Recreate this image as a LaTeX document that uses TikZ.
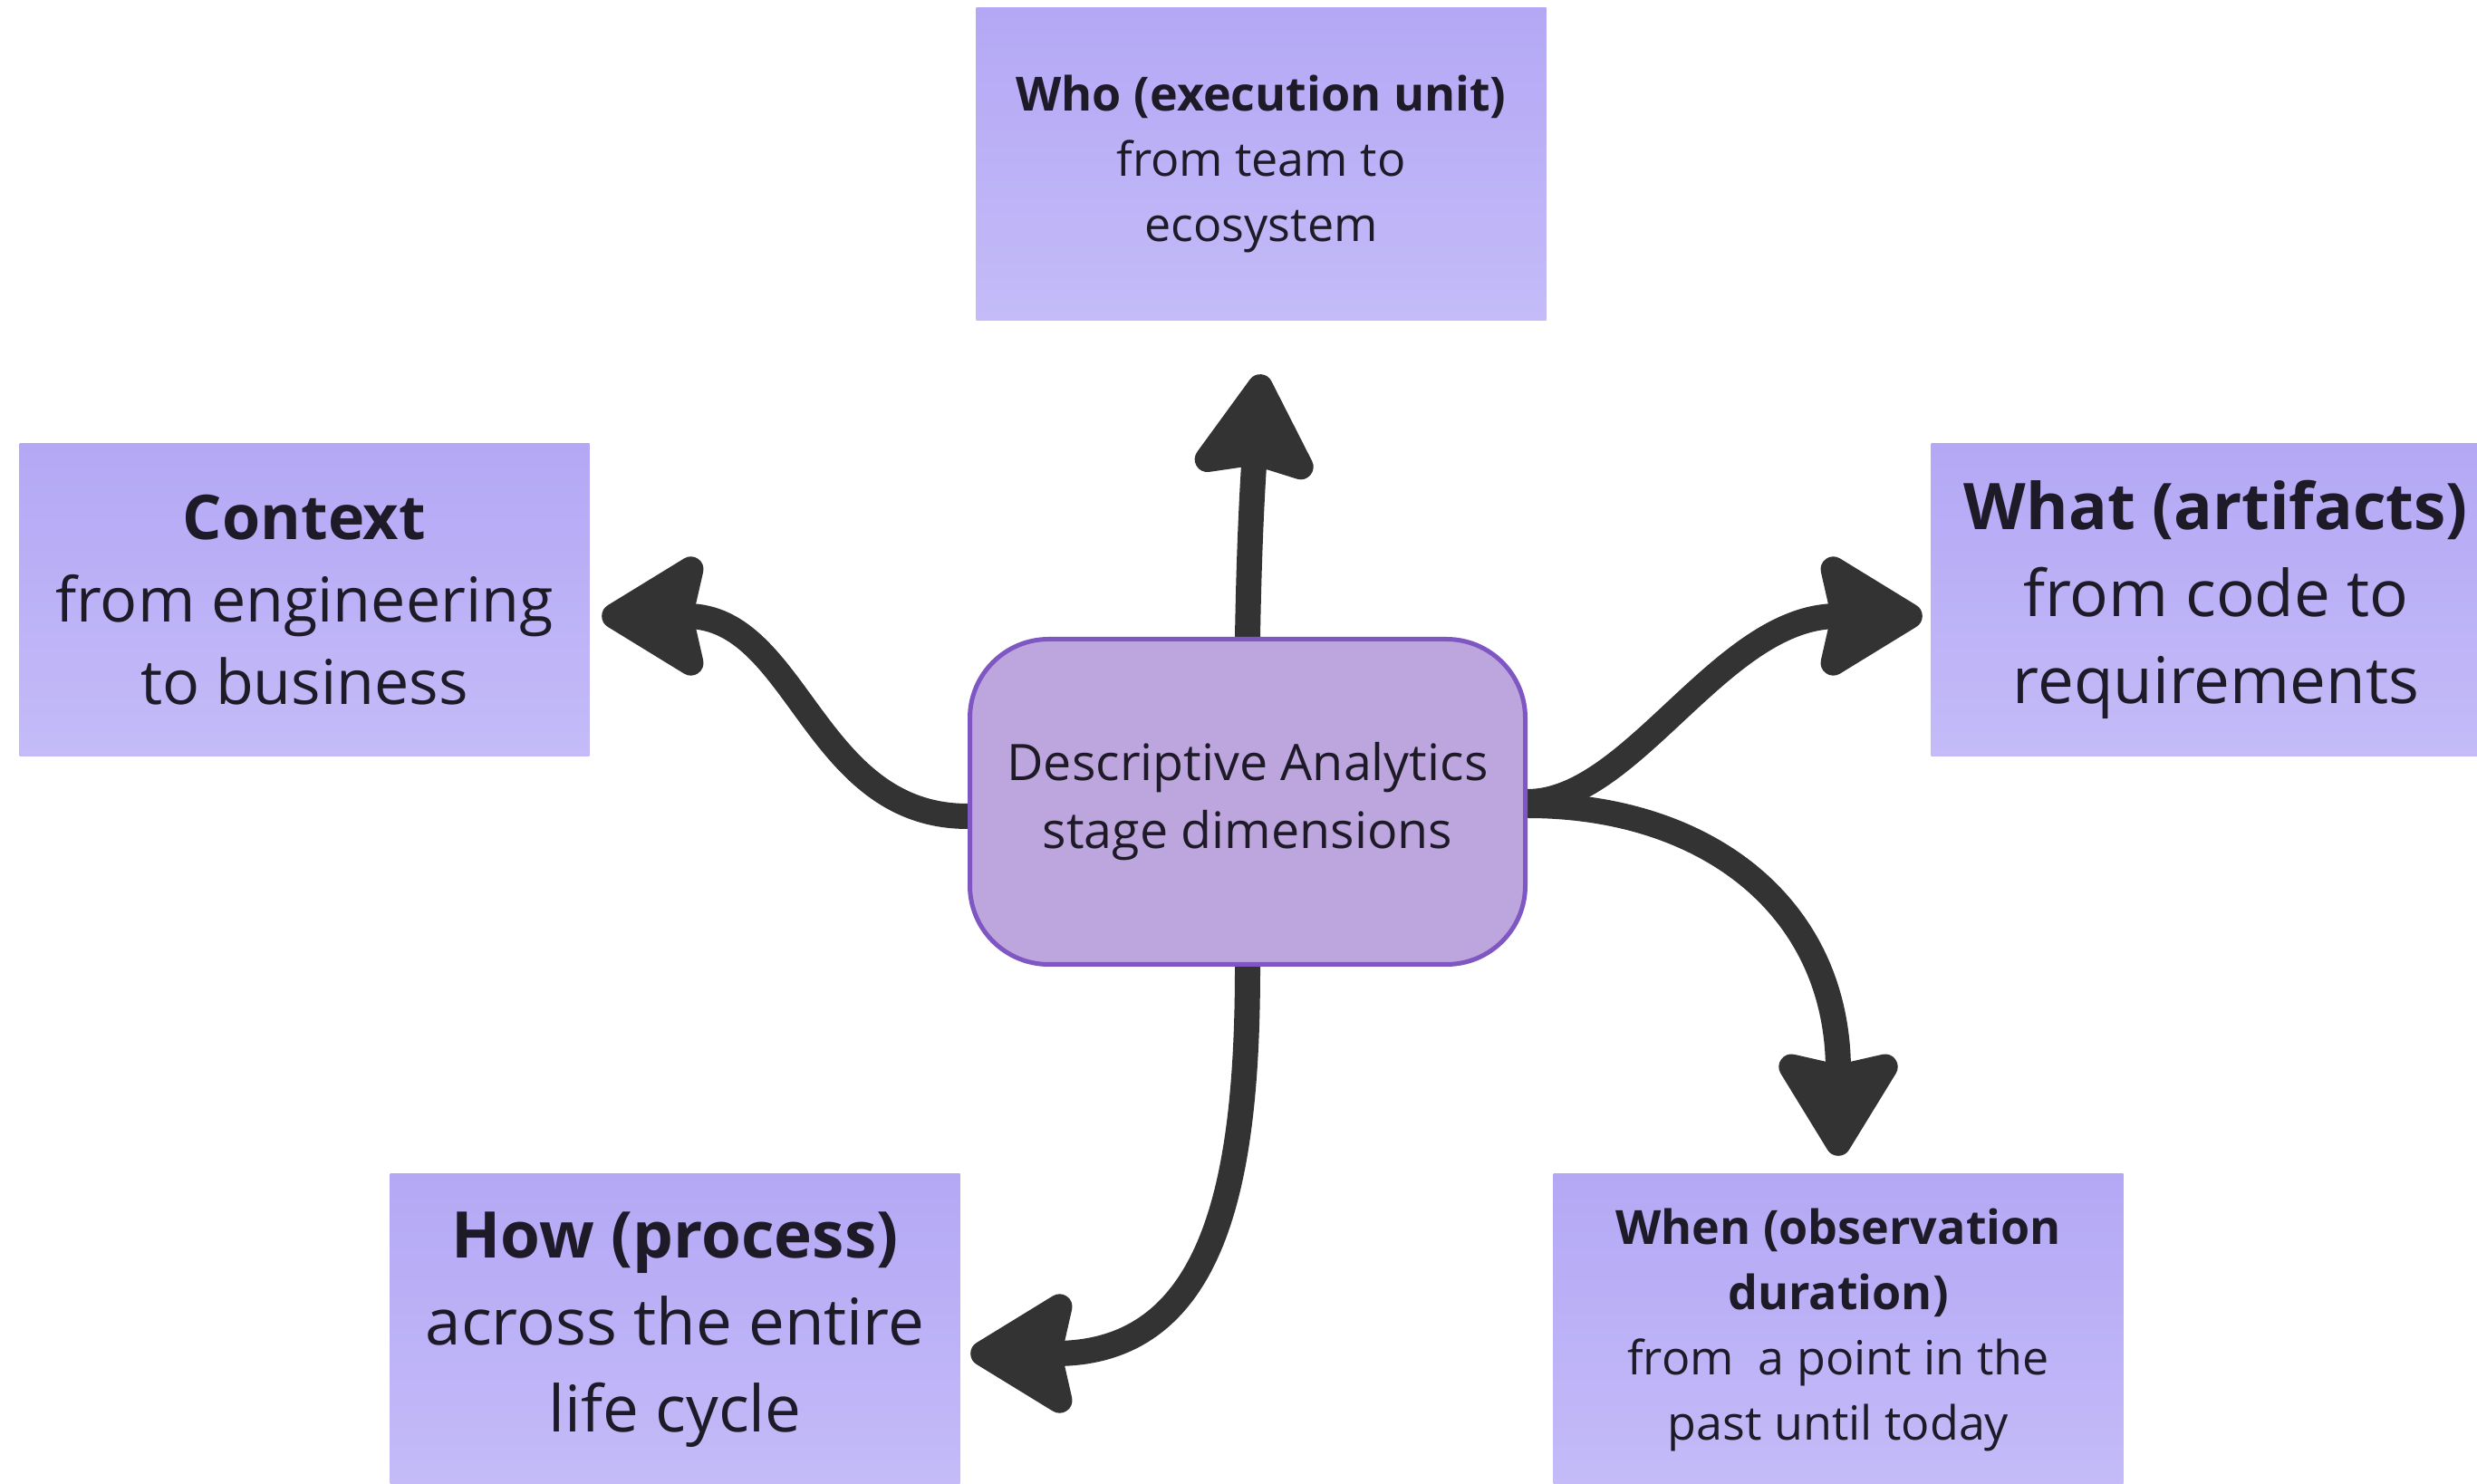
\documentclass[tikz,border=0pt]{standalone}
\usepackage{fontspec}
\setmainfont{Open Sans}
\usetikzlibrary{arrows.meta,backgrounds}

\definecolor{cardtop}{RGB}{180,168,245}
\definecolor{cardbot}{RGB}{196,187,248}
\definecolor{hubfill}{RGB}{189,166,222}
\definecolor{hubline}{RGB}{126,87,194}
\definecolor{ink}{RGB}{30,26,40}
\definecolor{arrowgray}{RGB}{51,51,51}

\begin{document}
\begin{tikzpicture}[
  card/.style={minimum width=6.29cm, minimum height=3.45cm, inner sep=0pt,
    top color=cardtop, bottom color=cardbot, text=ink, align=center},
  bigtext/.style={font=\fontsize{20.2}{27.3}\selectfont},
  midtext/.style={font=\fontsize{19.4}{25.8}\selectfont},
  smalltext/.style={font=\fontsize{14.8}{20.5}\selectfont},
  hub/.style={minimum width=6.13cm, minimum height=3.59cm, inner sep=0pt,
    rounded corners=0.87cm, draw=hubline, line width=0.05cm, fill=hubfill,
    text=ink, align=center, font=\fontsize{15.8}{21.3}\selectfont},
  link/.style={draw=arrowgray, line width=0.28cm,
    -{Stealth[length=1.3cm, width=1.56cm, inset=0.16cm, round]}},
]
\useasboundingbox (0,0) rectangle (27.34,-16.38);
%
\node [hub] (hub) at (13.77,-8.85) {Descriptive Analytics\\stage dimensions};
%
\node [card, smalltext] (who) at (13.92,-1.81) {\textbf{Who (execution unit)}\\from team to\\ecosystem};
\node [card, midtext] (ctx) at (3.36,-6.62) {\textbf{Context}\\from engineering\\to business};
\node [card, bigtext] (what) at (24.46,-6.62) {\textbf{What (artifacts)}\\from code to\\requirements};
\node [card, bigtext] (how) at (7.45,-14.68) {\textbf{How (process)}\\across the entire\\life cycle};
\node [card, smalltext] (when) at (20.29,-14.68) {\textbf{When (observation}\\\textbf{duration)}\\from~ a point in the\\past until today};
%
\begin{scope}[on background layer]
\draw [link] (hub.north) .. controls +(0.02,1.2) and +(-0.08,-1.0) .. ([yshift=-0.59cm]who.south);
\draw [link] ([yshift=-0.16cm]hub.west) .. controls +(-1.71,0) and +(2.17,0) .. ([shift={(0.13,-0.18)}]ctx.east);
\draw [link] (hub.east) .. controls +(1.16,0) and +(-2.22,0) .. ([shift={(-0.09,-0.18)}]what.west);
\draw [link] ([yshift=-0.04cm]hub.east) .. controls +(1.96,0) and +(0,2.76) .. ([yshift=0.19cm]when.north);
\draw [link] (hub.south) .. controls +(0,-2.35) and +(2.71,0) .. ([shift={(0.11,-0.26)}]how.east);
\end{scope}
%%%%%%%%%%%%%%%%%%%%%%%%%%%%%%%
\end{tikzpicture}
\end{document}
